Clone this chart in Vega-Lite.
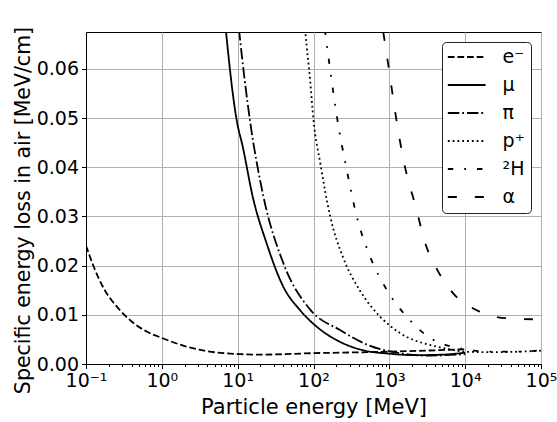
{
  "$schema": "https://vega.github.io/schema/vega-lite/v6.json",
  "width": 455,
  "height": 332,
  "autosize": "none",
  "padding": {"left": 86, "top": 32, "right": 16, "bottom": 58},
  "background": "white",
  "config": {
    "font": "DejaVu Sans",
    "view": {"stroke": "black", "strokeWidth": 1}
  },
  "data": {
    "values": [
      {"particle": "e⁻", "E": 0.1, "dEdx": 0.0241},
      {"particle": "e⁻", "E": 0.127, "dEdx": 0.0197},
      {"particle": "e⁻", "E": 0.174, "dEdx": 0.0152},
      {"particle": "e⁻", "E": 0.257, "dEdx": 0.0116},
      {"particle": "e⁻", "E": 0.389, "dEdx": 0.0088},
      {"particle": "e⁻", "E": 0.631, "dEdx": 0.0066},
      {"particle": "e⁻", "E": 1.0, "dEdx": 0.0053},
      {"particle": "e⁻", "E": 1.95, "dEdx": 0.0037},
      {"particle": "e⁻", "E": 3.63, "dEdx": 0.0027},
      {"particle": "e⁻", "E": 6.6, "dEdx": 0.0022},
      {"particle": "e⁻", "E": 11, "dEdx": 0.0020},
      {"particle": "e⁻", "E": 20, "dEdx": 0.0019},
      {"particle": "e⁻", "E": 100, "dEdx": 0.0022},
      {"particle": "e⁻", "E": 1000, "dEdx": 0.0025},
      {"particle": "e⁻", "E": 10000, "dEdx": 0.0030},
      {"particle": "μ", "E": 6.6, "dEdx": 0.072},
      {"particle": "μ", "E": 7.03, "dEdx": 0.0675},
      {"particle": "μ", "E": 9.7, "dEdx": 0.0496},
      {"particle": "μ", "E": 11.7, "dEdx": 0.0441},
      {"particle": "μ", "E": 15.8, "dEdx": 0.034},
      {"particle": "μ", "E": 24, "dEdx": 0.0246},
      {"particle": "μ", "E": 40, "dEdx": 0.0157},
      {"particle": "μ", "E": 66, "dEdx": 0.011},
      {"particle": "μ", "E": 110, "dEdx": 0.0076},
      {"particle": "μ", "E": 224, "dEdx": 0.0045},
      {"particle": "μ", "E": 447, "dEdx": 0.0028},
      {"particle": "μ", "E": 1000, "dEdx": 0.0021},
      {"particle": "μ", "E": 2040, "dEdx": 0.0018},
      {"particle": "μ", "E": 5000, "dEdx": 0.0019},
      {"particle": "μ", "E": 10000, "dEdx": 0.0023},
      {"particle": "π", "E": 9.8, "dEdx": 0.072},
      {"particle": "π", "E": 10.5, "dEdx": 0.0675},
      {"particle": "π", "E": 14.5, "dEdx": 0.0496},
      {"particle": "π", "E": 21.9, "dEdx": 0.034},
      {"particle": "π", "E": 40, "dEdx": 0.0205},
      {"particle": "π", "E": 91, "dEdx": 0.011},
      {"particle": "π", "E": 224, "dEdx": 0.0069},
      {"particle": "π", "E": 513, "dEdx": 0.0039},
      {"particle": "π", "E": 1380, "dEdx": 0.0022},
      {"particle": "π", "E": 3000, "dEdx": 0.0017},
      {"particle": "π", "E": 10000, "dEdx": 0.0020},
      {"particle": "p⁺", "E": 76, "dEdx": 0.070},
      {"particle": "p⁺", "E": 78.2, "dEdx": 0.0675},
      {"particle": "p⁺", "E": 90.2, "dEdx": 0.0577},
      {"particle": "p⁺", "E": 100, "dEdx": 0.0496},
      {"particle": "p⁺", "E": 123, "dEdx": 0.0408},
      {"particle": "p⁺", "E": 166, "dEdx": 0.030},
      {"particle": "p⁺", "E": 245, "dEdx": 0.0217},
      {"particle": "p⁺", "E": 407, "dEdx": 0.015},
      {"particle": "p⁺", "E": 759, "dEdx": 0.0096},
      {"particle": "p⁺", "E": 1380, "dEdx": 0.0063},
      {"particle": "p⁺", "E": 3800, "dEdx": 0.0037},
      {"particle": "p⁺", "E": 5750, "dEdx": 0.0031},
      {"particle": "p⁺", "E": 10000, "dEdx": 0.0025},
      {"particle": "p⁺", "E": 20000, "dEdx": 0.0024},
      {"particle": "p⁺", "E": 50000, "dEdx": 0.0025},
      {"particle": "p⁺", "E": 100000, "dEdx": 0.0027},
      {"particle": "²H", "E": 141, "dEdx": 0.068},
      {"particle": "²H", "E": 166, "dEdx": 0.0598},
      {"particle": "²H", "E": 204, "dEdx": 0.0502},
      {"particle": "²H", "E": 275, "dEdx": 0.0394},
      {"particle": "²H", "E": 372, "dEdx": 0.030},
      {"particle": "²H", "E": 562, "dEdx": 0.0217},
      {"particle": "²H", "E": 933, "dEdx": 0.015},
      {"particle": "²H", "E": 1700, "dEdx": 0.0096},
      {"particle": "²H", "E": 3800, "dEdx": 0.0049},
      {"particle": "²H", "E": 6300, "dEdx": 0.0036},
      {"particle": "²H", "E": 10000, "dEdx": 0.0030},
      {"particle": "²H", "E": 20000, "dEdx": 0.0025},
      {"particle": "²H", "E": 50000, "dEdx": 0.0025},
      {"particle": "²H", "E": 100000, "dEdx": 0.0028},
      {"particle": "α", "E": 832, "dEdx": 0.0675},
      {"particle": "α", "E": 977, "dEdx": 0.0604},
      {"particle": "α", "E": 1259, "dEdx": 0.049},
      {"particle": "α", "E": 1514, "dEdx": 0.042},
      {"particle": "α", "E": 2344, "dEdx": 0.0307},
      {"particle": "α", "E": 2884, "dEdx": 0.0252},
      {"particle": "α", "E": 4169, "dEdx": 0.0195},
      {"particle": "α", "E": 6918, "dEdx": 0.0144},
      {"particle": "α", "E": 14791, "dEdx": 0.0108},
      {"particle": "α", "E": 35481, "dEdx": 0.0093},
      {"particle": "α", "E": 83176, "dEdx": 0.0091},
      {"particle": "α", "E": 100000, "dEdx": 0.0092}
    ]
  },
  "mark": {"type": "line", "color": "black", "strokeWidth": 1.8, "clip": true, "interpolate": "monotone"},
  "encoding": {
    "x": {
      "field": "E",
      "type": "quantitative",
      "scale": {"type": "log", "domain": [0.1, 100000], "nice": false},
      "axis": {
        "title": "Particle energy [MeV]",
        "titleFontSize": 21,
        "titleFontWeight": "normal",
        "titleColor": "black",
        "titlePadding": 6,
        "values": [0.1,0.2,0.3,0.4,0.5,0.6,0.7,0.8,0.9,1,2,3,4,5,6,7,8,9,10,20,30,40,50,60,70,80,90,100,200,300,400,500,600,700,800,900,1000,2000,3000,4000,5000,6000,7000,8000,9000,10000,20000,30000,40000,50000,60000,70000,80000,90000,100000],
        "labelExpr": "abs(log(datum.value)/LN10 - round(log(datum.value)/LN10)) < 0.001 ? '10' + ['⁻¹','⁰','¹','²','³','⁴','⁵'][round(log(datum.value)/LN10)+1] : ''",
        "labelOverlap": false,
        "labelFontSize": 19,
        "labelColor": "black",
        "labelPadding": 3,
        "labelFlush": false,
        "domainColor": "black",
        "tickColor": "black",
        "tickWidth": 1,
        "tickSize": {"condition": {"test": "abs(log(datum.value)/LN10 - round(log(datum.value)/LN10)) < 0.001", "value": 4.5}, "value": 2.5},
        "gridColor": "#b0b0b0",
        "gridWidth": 1,
        "gridOpacity": {"condition": {"test": "abs(log(datum.value)/LN10 - round(log(datum.value)/LN10)) < 0.001", "value": 1}, "value": 0}
      }
    },
    "y": {
      "field": "dEdx",
      "type": "quantitative",
      "scale": {"domain": [0, 0.0675], "nice": false, "zero": true},
      "axis": {
        "title": "Specific energy loss in air [MeV/cm]",
        "titleFontSize": 20.5,
        "titleFontWeight": "normal",
        "titleColor": "black",
        "titlePadding": 3,
        "titleY": 178,
        "values": [0, 0.01, 0.02, 0.03, 0.04, 0.05, 0.06],
        "format": ".2f",
        "labelFontSize": 19,
        "labelColor": "black",
        "labelPadding": 3,
        "domainColor": "black",
        "tickColor": "black",
        "tickSize": 4.5,
        "tickWidth": 1,
        "gridColor": "#b0b0b0",
        "gridWidth": 1
      }
    },
    "strokeDash": {
      "field": "particle",
      "type": "nominal",
      "scale": {
        "domain": ["e⁻", "μ", "π", "p⁺", "²H", "α"],
        "range": [[6.7, 2.9], [1, 0], [11.5, 2.9, 1.8, 2.9], [1.8, 3], [5.4, 11, 1.8, 11], [9, 18]]
      },
      "legend": {
        "title": null,
        "orient": "top-right",
        "offset": 10,
        "symbolType": "M-2.27,0H2.27",
        "symbolStrokeColor": "black",
        "symbolFillColor": "transparent",
        "symbolStrokeWidth": 1.8,
        "symbolSize": 276,
        "symbolOffset": 9.7,
        "labelFontSize": 19,
        "labelColor": "black",
        "labelOffset": 26.4,
        "rowPadding": 8,
        "padding": 5.5,
        "strokeColor": "#222222",
        "fillColor": "white",
        "cornerRadius": 4
      }
    }
  }
}
